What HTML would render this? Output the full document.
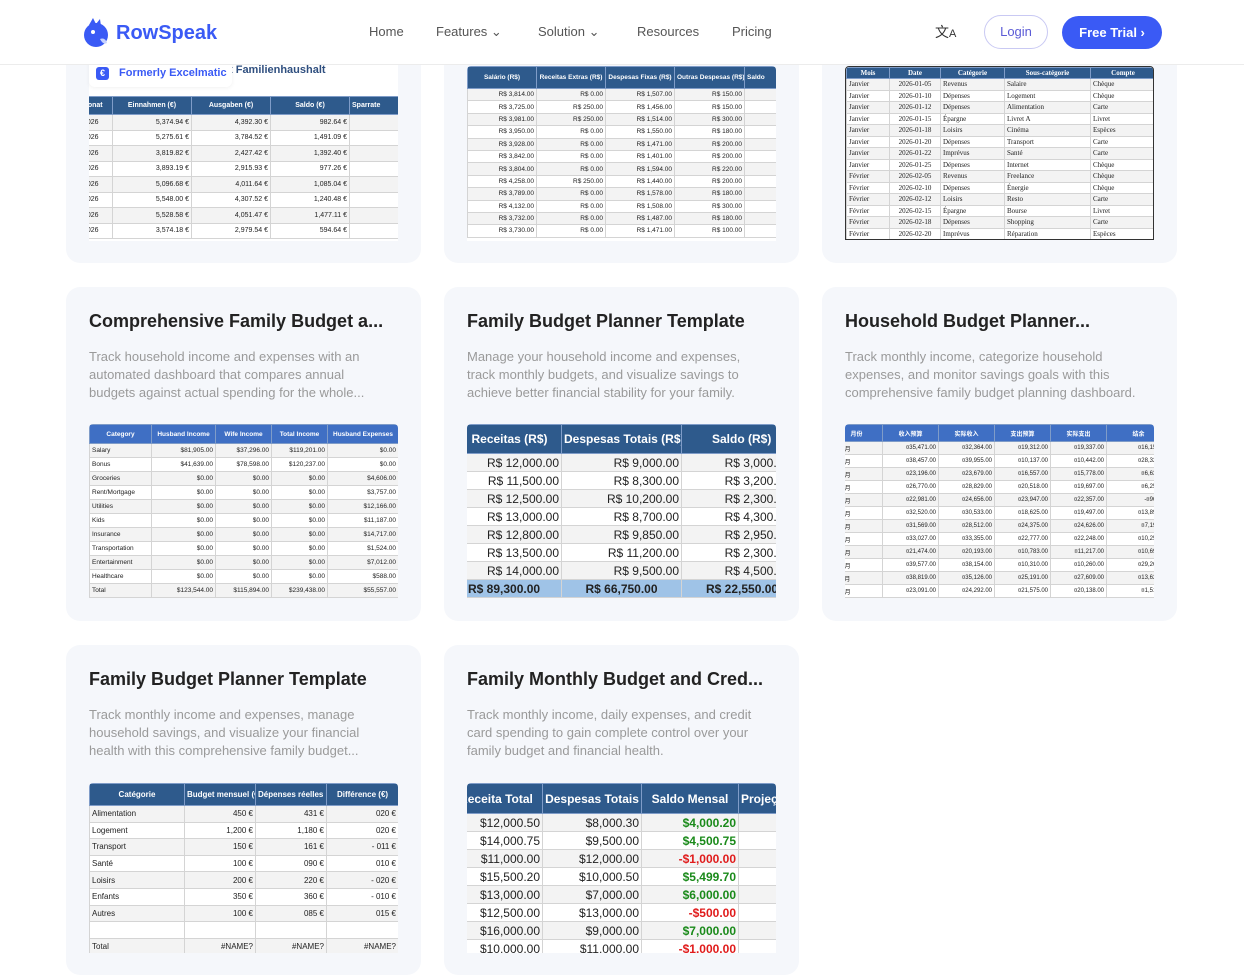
<!DOCTYPE html>
<html><head><meta charset="utf-8">
<style>
*{margin:0;padding:0;box-sizing:border-box}
body{width:1244px;height:953px;overflow:hidden;background:#fff;font-family:"Liberation Sans","Noto Sans CJK SC",sans-serif;position:relative}
.card{position:absolute;background:#f5f7fb;border-radius:14px;width:355px}
.title{position:absolute;left:23px;font-size:18px;font-weight:bold;color:#222;white-space:nowrap}
.desc{position:absolute;left:23px;width:300px;font-size:13px;line-height:18px;color:#9a9a9a}
.tw{position:absolute;overflow:hidden;background:#fff;border-radius:4px 4px 0 0}
table{border-collapse:collapse;table-layout:fixed;font-family:"Liberation Sans","Noto Sans CJK SC",sans-serif;color:#222}
td,th{border:1px solid #d4d4d4;white-space:nowrap;overflow:hidden;padding:0 2px;text-align:right}
th{color:#fff;font-weight:bold;text-align:center;border-color:#7f9cc8}
td:first-child{text-align:left}
tr:nth-child(even) td{background:#f3f3f3}
.nav a{position:absolute;top:24px;font-size:13px;color:#555;text-decoration:none}
</style></head><body>

<!-- Row 1 cards -->
<div class="card" style="left:66px;top:-20px;height:283px"></div>
<div class="card" style="left:444px;top:-20px;height:283px"></div>
<div class="card" style="left:822px;top:-20px;height:283px"></div>

<div class="tw" style="left:89px;top:60px;width:309px;height:181px">
<div style="position:absolute;left:140px;top:4px;font-size:11px;font-weight:bold;color:#2f4f7f">t Familienhaushalt</div>
<table style="position:absolute;top:36px;left:-20px;width:350px;font-size:7px">
<col style="width:43px"><col style="width:79px"><col style="width:79px"><col style="width:79px"><col style="width:70px">
<tr style="height:18px;background:#2e5a8c"><th style="text-align:left;padding-left:12px">Monat</th><th>Einnahmen (€)</th><th>Ausgaben (€)</th><th>Saldo (€)</th><th style="text-align:left">Sparrate</th></tr>
<tr style="height:15.5px"><td style="padding-left:13px">2026</td><td>5,374.94 €</td><td>4,392.30 €</td><td>982.64 €</td><td>18%</td></tr>
<tr style="height:15.5px"><td style="padding-left:13px">2026</td><td>5,275.61 €</td><td>3,784.52 €</td><td>1,491.09 €</td><td>28%</td></tr>
<tr style="height:15.5px"><td style="padding-left:13px">2026</td><td>3,819.82 €</td><td>2,427.42 €</td><td>1,392.40 €</td><td>36%</td></tr>
<tr style="height:15.5px"><td style="padding-left:13px">2026</td><td>3,893.19 €</td><td>2,915.93 €</td><td>977.26 €</td><td>25%</td></tr>
<tr style="height:15.5px"><td style="padding-left:13px">2026</td><td>5,096.68 €</td><td>4,011.64 €</td><td>1,085.04 €</td><td>21%</td></tr>
<tr style="height:15.5px"><td style="padding-left:13px">2026</td><td>5,548.00 €</td><td>4,307.52 €</td><td>1,240.48 €</td><td>22%</td></tr>
<tr style="height:15.5px"><td style="padding-left:13px">2026</td><td>5,528.58 €</td><td>4,051.47 €</td><td>1,477.11 €</td><td>27%</td></tr>
<tr style="height:15.5px"><td style="padding-left:13px">2026</td><td>3,574.18 €</td><td>2,979.54 €</td><td>594.64 €</td><td>17%</td></tr>
</table></div>
<div style="position:absolute;left:89px;top:60px;width:143px;height:27px;background:#fff;border-radius:6px;box-shadow:0 1px 4px rgba(0,0,0,.06)">
<div style="position:absolute;left:7px;top:7px;width:13px;height:13px;background:#3a5af5;border-radius:3px;color:#fff;font-size:9px;font-weight:bold;text-align:center;line-height:13px">€</div>
<div style="position:absolute;left:30px;top:7px;font-size:11px;font-weight:bold;color:#3a5af5">Formerly Excelmatic</div></div>

<div class="tw" style="left:467px;top:66px;width:309px;height:175px">
<table style="width:330px;font-size:6.5px">
<col style="width:69px"><col style="width:69px"><col style="width:69px"><col style="width:70px"><col style="width:53px">
<tr style="height:22px;background:#2e5a8c"><th>Salário (R$)</th><th>Receitas Extras (R$)</th><th>Despesas Fixas (R$)</th><th>Outras Despesas (R$)</th><th style="text-align:left">Saldo</th></tr>
<tr style="height:12.4px"><td style="text-align:right">R$ 3,814.00</td><td>R$ 0.00</td><td>R$ 1,507.00</td><td>R$ 150.00</td><td></td></tr>
<tr style="height:12.4px"><td style="text-align:right">R$ 3,725.00</td><td>R$ 250.00</td><td>R$ 1,456.00</td><td>R$ 150.00</td><td></td></tr>
<tr style="height:12.4px"><td style="text-align:right">R$ 3,981.00</td><td>R$ 250.00</td><td>R$ 1,514.00</td><td>R$ 300.00</td><td></td></tr>
<tr style="height:12.4px"><td style="text-align:right">R$ 3,950.00</td><td>R$ 0.00</td><td>R$ 1,550.00</td><td>R$ 180.00</td><td></td></tr>
<tr style="height:12.4px"><td style="text-align:right">R$ 3,928.00</td><td>R$ 0.00</td><td>R$ 1,471.00</td><td>R$ 200.00</td><td></td></tr>
<tr style="height:12.4px"><td style="text-align:right">R$ 3,842.00</td><td>R$ 0.00</td><td>R$ 1,401.00</td><td>R$ 200.00</td><td></td></tr>
<tr style="height:12.4px"><td style="text-align:right">R$ 3,804.00</td><td>R$ 0.00</td><td>R$ 1,594.00</td><td>R$ 220.00</td><td></td></tr>
<tr style="height:12.4px"><td style="text-align:right">R$ 4,258.00</td><td>R$ 250.00</td><td>R$ 1,440.00</td><td>R$ 200.00</td><td></td></tr>
<tr style="height:12.4px"><td style="text-align:right">R$ 3,789.00</td><td>R$ 0.00</td><td>R$ 1,578.00</td><td>R$ 180.00</td><td></td></tr>
<tr style="height:12.4px"><td style="text-align:right">R$ 4,132.00</td><td>R$ 0.00</td><td>R$ 1,508.00</td><td>R$ 300.00</td><td></td></tr>
<tr style="height:12.4px"><td style="text-align:right">R$ 3,732.00</td><td>R$ 0.00</td><td>R$ 1,487.00</td><td>R$ 180.00</td><td></td></tr>
<tr style="height:12.4px"><td style="text-align:right">R$ 3,730.00</td><td>R$ 0.00</td><td>R$ 1,471.00</td><td>R$ 100.00</td><td></td></tr>
</table></div>

<div class="tw" style="left:845px;top:66px;width:309px;height:174px;border:1px solid #333">
<table style="width:309px;font-size:7px;font-family:'Liberation Serif',serif">
<col style="width:43px"><col style="width:51px"><col style="width:64px"><col style="width:86px"><col style="width:65px">
<tr style="height:11px;background:#2e5a8c"><th>Mois</th><th>Date</th><th>Catégorie</th><th>Sous-catégorie</th><th>Compte</th></tr>
<tr style="height:11.5px"><td>Janvier</td><td style="text-align:center">2026-01-05</td><td style="text-align:left">Revenus</td><td style="text-align:left">Salaire</td><td style="text-align:left">Chèque</td></tr>
<tr style="height:11.5px"><td>Janvier</td><td style="text-align:center">2026-01-10</td><td style="text-align:left">Dépenses</td><td style="text-align:left">Logement</td><td style="text-align:left">Chèque</td></tr>
<tr style="height:11.5px"><td>Janvier</td><td style="text-align:center">2026-01-12</td><td style="text-align:left">Dépenses</td><td style="text-align:left">Alimentation</td><td style="text-align:left">Carte</td></tr>
<tr style="height:11.5px"><td>Janvier</td><td style="text-align:center">2026-01-15</td><td style="text-align:left">Épargne</td><td style="text-align:left">Livret A</td><td style="text-align:left">Livret</td></tr>
<tr style="height:11.5px"><td>Janvier</td><td style="text-align:center">2026-01-18</td><td style="text-align:left">Loisirs</td><td style="text-align:left">Cinéma</td><td style="text-align:left">Espèces</td></tr>
<tr style="height:11.5px"><td>Janvier</td><td style="text-align:center">2026-01-20</td><td style="text-align:left">Dépenses</td><td style="text-align:left">Transport</td><td style="text-align:left">Carte</td></tr>
<tr style="height:11.5px"><td>Janvier</td><td style="text-align:center">2026-01-22</td><td style="text-align:left">Imprévus</td><td style="text-align:left">Santé</td><td style="text-align:left">Carte</td></tr>
<tr style="height:11.5px"><td>Janvier</td><td style="text-align:center">2026-01-25</td><td style="text-align:left">Dépenses</td><td style="text-align:left">Internet</td><td style="text-align:left">Chèque</td></tr>
<tr style="height:11.5px"><td>Février</td><td style="text-align:center">2026-02-05</td><td style="text-align:left">Revenus</td><td style="text-align:left">Freelance</td><td style="text-align:left">Chèque</td></tr>
<tr style="height:11.5px"><td>Février</td><td style="text-align:center">2026-02-10</td><td style="text-align:left">Dépenses</td><td style="text-align:left">Énergie</td><td style="text-align:left">Chèque</td></tr>
<tr style="height:11.5px"><td>Février</td><td style="text-align:center">2026-02-12</td><td style="text-align:left">Loisirs</td><td style="text-align:left">Resto</td><td style="text-align:left">Carte</td></tr>
<tr style="height:11.5px"><td>Février</td><td style="text-align:center">2026-02-15</td><td style="text-align:left">Épargne</td><td style="text-align:left">Bourse</td><td style="text-align:left">Livret</td></tr>
<tr style="height:11.5px"><td>Février</td><td style="text-align:center">2026-02-18</td><td style="text-align:left">Dépenses</td><td style="text-align:left">Shopping</td><td style="text-align:left">Carte</td></tr>
<tr style="height:11.5px"><td>Février</td><td style="text-align:center">2026-02-20</td><td style="text-align:left">Imprévus</td><td style="text-align:left">Réparation</td><td style="text-align:left">Espèces</td></tr>
</table></div>

<!-- Header -->
<div style="position:absolute;left:0;top:0;width:1244px;height:65px;background:#fff;border-bottom:1px solid #ececec"></div>
<svg style="position:absolute;left:83px;top:17px" width="27" height="31" viewBox="0 0 27 31"><circle cx="13" cy="18" r="12" fill="#3a5af5"/><path d="M6 8 L10 1 L13 7 L17 2 L18 9Z" fill="#3a5af5"/><circle cx="10" cy="15" r="2" fill="#fff"/><path d="M17 22 q5 -2 7 4 q-4 2 -7 -4z" fill="#c7d2fe"/></svg>
<div style="position:absolute;left:116px;top:22px;font-size:20px;font-weight:bold;color:#3a5af5">RowSpeak</div>
<div class="nav">
<a style="left:369px">Home</a><a style="left:436px">Features ⌄</a><a style="left:538px">Solution ⌄</a><a style="left:637px">Resources</a><a style="left:732px">Pricing</a></div>
<div style="position:absolute;left:935px;top:22px;font-size:14px;color:#333">文<span style="font-size:11px">A</span></div>
<div style="position:absolute;left:984px;top:15px;width:64px;height:34px;border:1px solid #c9c9f3;border-radius:17px;text-align:center;line-height:32px;font-size:13px;color:#5b5bd6">Login</div>
<div style="position:absolute;left:1062px;top:16px;width:100px;height:33px;background:#3a5af5;border-radius:17px;text-align:center;line-height:33px;font-size:13px;font-weight:bold;color:#fff">Free Trial ›</div>

<!-- Row 2 -->
<div class="card" style="left:66px;top:287px;height:334px">
<div class="title" style="top:24px">Comprehensive Family Budget a...</div>
<div class="desc" style="top:61px">Track household income and expenses with an automated dashboard that compares annual budgets against actual spending for the whole...</div>
</div>
<div class="card" style="left:444px;top:287px;height:334px">
<div class="title" style="top:24px">Family Budget Planner Template</div>
<div class="desc" style="top:61px">Manage your household income and expenses, track monthly budgets, and visualize savings to achieve better financial stability for your family.</div>
</div>
<div class="card" style="left:822px;top:287px;height:334px">
<div class="title" style="top:24px">Household Budget Planner...</div>
<div class="desc" style="top:61px">Track monthly income, categorize household expenses, and monitor savings goals with this comprehensive family budget planning dashboard.</div>
</div>

<div class="tw" style="left:89px;top:424px;width:309px;height:174px">
<table style="width:309px;font-size:6.5px">
<col style="width:62px"><col style="width:64px"><col style="width:56px"><col style="width:56px"><col style="width:71px">
<tr style="height:19px;background:#3f6fc4"><th>Category</th><th>Husband Income</th><th>Wife Income</th><th>Total Income</th><th>Husband Expenses</th></tr>
<tr style="height:14px"><td>Salary</td><td>$81,905.00</td><td>$37,296.00</td><td>$119,201.00</td><td>$0.00</td></tr>
<tr style="height:14px"><td>Bonus</td><td>$41,639.00</td><td>$78,598.00</td><td>$120,237.00</td><td>$0.00</td></tr>
<tr style="height:14px"><td>Groceries</td><td>$0.00</td><td>$0.00</td><td>$0.00</td><td>$4,606.00</td></tr>
<tr style="height:14px"><td>Rent/Mortgage</td><td>$0.00</td><td>$0.00</td><td>$0.00</td><td>$3,757.00</td></tr>
<tr style="height:14px"><td>Utilities</td><td>$0.00</td><td>$0.00</td><td>$0.00</td><td>$12,166.00</td></tr>
<tr style="height:14px"><td>Kids</td><td>$0.00</td><td>$0.00</td><td>$0.00</td><td>$11,187.00</td></tr>
<tr style="height:14px"><td>Insurance</td><td>$0.00</td><td>$0.00</td><td>$0.00</td><td>$14,717.00</td></tr>
<tr style="height:14px"><td>Transportation</td><td>$0.00</td><td>$0.00</td><td>$0.00</td><td>$1,524.00</td></tr>
<tr style="height:14px"><td>Entertainment</td><td>$0.00</td><td>$0.00</td><td>$0.00</td><td>$7,012.00</td></tr>
<tr style="height:14px"><td>Healthcare</td><td>$0.00</td><td>$0.00</td><td>$0.00</td><td>$588.00</td></tr>
<tr style="height:14px"><td>Total</td><td>$123,544.00</td><td>$115,894.00</td><td>$239,438.00</td><td>$55,557.00</td></tr>
</table></div>

<div class="tw" style="left:467px;top:424px;width:309px;height:174px">
<table style="width:364px;font-size:12px;position:relative;left:-10px">
<col style="width:104px"><col style="width:120px"><col style="width:140px">
<tr style="height:29px;background:#2e5a8c"><th>Receitas (R$)</th><th>Despesas Totais (R$)</th><th style="text-align:left;padding-left:30px">Saldo (R$)</th></tr>
<tr style="height:18px"><td style="text-align:right">R$ 12,000.00</td><td>R$ 9,000.00</td><td style="padding-right:31px">R$ 3,000.00</td></tr>
<tr style="height:18px"><td style="text-align:right">R$ 11,500.00</td><td>R$ 8,300.00</td><td style="padding-right:31px">R$ 3,200.00</td></tr>
<tr style="height:18px"><td style="text-align:right">R$ 12,500.00</td><td>R$ 10,200.00</td><td style="padding-right:31px">R$ 2,300.00</td></tr>
<tr style="height:18px"><td style="text-align:right">R$ 13,000.00</td><td>R$ 8,700.00</td><td style="padding-right:31px">R$ 4,300.00</td></tr>
<tr style="height:18px"><td style="text-align:right">R$ 12,800.00</td><td>R$ 9,850.00</td><td style="padding-right:31px">R$ 2,950.00</td></tr>
<tr style="height:18px"><td style="text-align:right">R$ 13,500.00</td><td>R$ 11,200.00</td><td style="padding-right:31px">R$ 2,300.00</td></tr>
<tr style="height:18px"><td style="text-align:right">R$ 14,000.00</td><td>R$ 9,500.00</td><td style="padding-right:31px">R$ 4,500.00</td></tr>
<tr style="height:18px;font-weight:bold"><td style="background:#9fc3e7;text-align:left;padding-left:10px">R$ 89,300.00</td><td style="background:#9fc3e7;text-align:center">R$ 66,750.00</td><td style="background:#9fc3e7;text-align:left;padding-left:24px">R$ 22,550.00</td></tr>
</table></div>

<div class="tw" style="left:845px;top:424px;width:309px;height:174px">
<table style="width:340px;font-size:6px;position:relative;left:-15px">
<col style="width:52px"><col style="width:56px"><col style="width:56px"><col style="width:56px"><col style="width:56px"><col style="width:64px">
<tr style="height:17px;background:#3f6fc4"><th>月份</th><th>收入预算</th><th>实际收入</th><th>支出预算</th><th>实际支出</th><th>结余</th></tr>
<tr style="height:13px"><td>&nbsp;&nbsp;&nbsp;&nbsp;&nbsp;1月</td><td>¤35,471.00</td><td>¤32,364.00</td><td>¤19,312.00</td><td>¤19,337.00</td><td>¤16,159.00</td></tr>
<tr style="height:13px"><td>&nbsp;&nbsp;&nbsp;&nbsp;&nbsp;2月</td><td>¤38,457.00</td><td>¤39,955.00</td><td>¤10,137.00</td><td>¤10,442.00</td><td>¤28,320.00</td></tr>
<tr style="height:13px"><td>&nbsp;&nbsp;&nbsp;&nbsp;&nbsp;3月</td><td>¤23,196.00</td><td>¤23,679.00</td><td>¤16,557.00</td><td>¤15,778.00</td><td>¤6,639.00</td></tr>
<tr style="height:13px"><td>&nbsp;&nbsp;&nbsp;&nbsp;&nbsp;4月</td><td>¤26,770.00</td><td>¤28,829.00</td><td>¤20,518.00</td><td>¤19,697.00</td><td>¤6,252.00</td></tr>
<tr style="height:13px"><td>&nbsp;&nbsp;&nbsp;&nbsp;&nbsp;5月</td><td>¤22,981.00</td><td>¤24,656.00</td><td>¤23,947.00</td><td>¤22,357.00</td><td>-¤966.00</td></tr>
<tr style="height:13px"><td>&nbsp;&nbsp;&nbsp;&nbsp;&nbsp;6月</td><td>¤32,520.00</td><td>¤30,533.00</td><td>¤18,625.00</td><td>¤19,497.00</td><td>¤13,895.00</td></tr>
<tr style="height:13px"><td>&nbsp;&nbsp;&nbsp;&nbsp;&nbsp;7月</td><td>¤31,569.00</td><td>¤28,512.00</td><td>¤24,375.00</td><td>¤24,626.00</td><td>¤7,194.00</td></tr>
<tr style="height:13px"><td>&nbsp;&nbsp;&nbsp;&nbsp;&nbsp;8月</td><td>¤33,027.00</td><td>¤33,355.00</td><td>¤22,777.00</td><td>¤22,248.00</td><td>¤10,250.00</td></tr>
<tr style="height:13px"><td>&nbsp;&nbsp;&nbsp;&nbsp;&nbsp;9月</td><td>¤21,474.00</td><td>¤20,193.00</td><td>¤10,783.00</td><td>¤11,217.00</td><td>¤10,691.00</td></tr>
<tr style="height:13px"><td>&nbsp;&nbsp;&nbsp;10月</td><td>¤39,577.00</td><td>¤38,154.00</td><td>¤10,310.00</td><td>¤10,260.00</td><td>¤29,267.00</td></tr>
<tr style="height:13px"><td>&nbsp;&nbsp;&nbsp;11月</td><td>¤38,819.00</td><td>¤35,126.00</td><td>¤25,191.00</td><td>¤27,609.00</td><td>¤13,628.00</td></tr>
<tr style="height:13px"><td>&nbsp;&nbsp;&nbsp;12月</td><td>¤23,091.00</td><td>¤24,292.00</td><td>¤21,575.00</td><td>¤20,138.00</td><td>¤1,516.00</td></tr>
</table></div>

<!-- Row 3 -->
<div class="card" style="left:66px;top:645px;height:330px">
<div class="title" style="top:24px">Family Budget Planner Template</div>
<div class="desc" style="top:61px">Track monthly income and expenses, manage household savings, and visualize your financial health with this comprehensive family budget...</div>
</div>
<div class="card" style="left:444px;top:645px;height:330px">
<div class="title" style="top:24px">Family Monthly Budget and Cred...</div>
<div class="desc" style="top:61px">Track monthly income, daily expenses, and credit card spending to gain complete control over your family budget and financial health.</div>
</div>

<div class="tw" style="left:89px;top:783px;width:309px;height:170px">
<table style="width:309px;font-size:8px">
<col style="width:95px"><col style="width:71px"><col style="width:71px"><col style="width:72px">
<tr style="height:22px;background:#2e5a8c"><th>Catégorie</th><th>Budget mensuel (€)</th><th>Dépenses réelles (€)</th><th>Différence (€)</th></tr>
<tr style="height:16.6px"><td>Alimentation</td><td>450 €</td><td>431 €</td><td>020 €</td></tr>
<tr style="height:16.6px"><td>Logement</td><td>1,200 €</td><td>1,180 €</td><td>020 €</td></tr>
<tr style="height:16.6px"><td>Transport</td><td>150 €</td><td>161 €</td><td>- 011 €</td></tr>
<tr style="height:16.6px"><td>Santé</td><td>100 €</td><td>090 €</td><td>010 €</td></tr>
<tr style="height:16.6px"><td>Loisirs</td><td>200 €</td><td>220 €</td><td>- 020 €</td></tr>
<tr style="height:16.6px"><td>Enfants</td><td>350 €</td><td>360 €</td><td>- 010 €</td></tr>
<tr style="height:16.6px"><td>Autres</td><td>100 €</td><td>085 €</td><td>015 €</td></tr>
<tr style="height:16.6px"><td></td><td></td><td></td><td></td></tr>
<tr style="height:16.6px"><td>Total</td><td>#NAME?</td><td>#NAME?</td><td>#NAME?</td></tr>
</table></div>

<div class="tw" style="left:467px;top:783px;width:309px;height:170px">
<table style="width:340px;font-size:12px;position:relative;left:-18px">
<col style="width:93px"><col style="width:99px"><col style="width:97px"><col style="width:51px">
<tr style="height:30px;background:#2e5a8c"><th>Receita Total</th><th>Despesas Totais</th><th>Saldo Mensal</th><th style="text-align:left">Projeção para</th></tr>
<tr style="height:18px"><td style="text-align:right">$12,000.50</td><td>$8,000.30</td><td style="color:#1a8a1a;font-weight:bold">$4,000.20</td><td></td></tr>
<tr style="height:18px"><td style="text-align:right">$14,000.75</td><td>$9,500.00</td><td style="color:#1a8a1a;font-weight:bold">$4,500.75</td><td></td></tr>
<tr style="height:18px"><td style="text-align:right">$11,000.00</td><td>$12,000.00</td><td style="color:#e01b1b;font-weight:bold">-$1,000.00</td><td></td></tr>
<tr style="height:18px"><td style="text-align:right">$15,500.20</td><td>$10,000.50</td><td style="color:#1a8a1a;font-weight:bold">$5,499.70</td><td></td></tr>
<tr style="height:18px"><td style="text-align:right">$13,000.00</td><td>$7,000.00</td><td style="color:#1a8a1a;font-weight:bold">$6,000.00</td><td></td></tr>
<tr style="height:18px"><td style="text-align:right">$12,500.00</td><td>$13,000.00</td><td style="color:#e01b1b;font-weight:bold">-$500.00</td><td></td></tr>
<tr style="height:18px"><td style="text-align:right">$16,000.00</td><td>$9,000.00</td><td style="color:#1a8a1a;font-weight:bold">$7,000.00</td><td></td></tr>
<tr style="height:18px"><td style="text-align:right">$10,000.00</td><td>$11,000.00</td><td style="color:#e01b1b;font-weight:bold">-$1,000.00</td><td></td></tr>
</table></div>

</body></html>
